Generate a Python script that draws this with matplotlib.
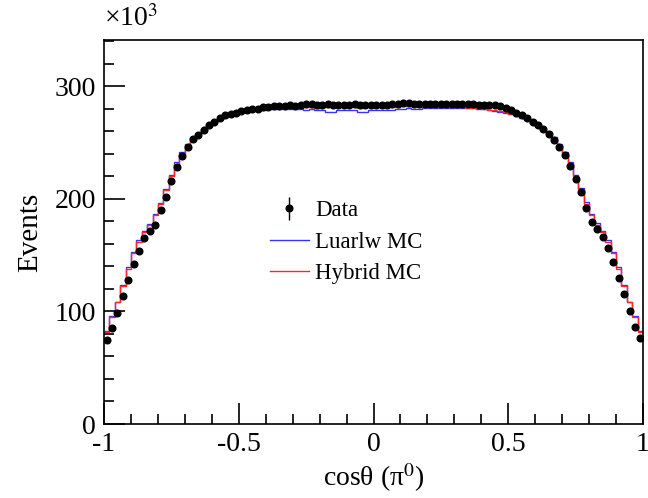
import numpy as np
import matplotlib
matplotlib.use("Agg")
import matplotlib.pyplot as plt
from matplotlib.ticker import MultipleLocator, FixedLocator

plt.rcParams['font.family'] = ['Liberation Serif', 'DejaVu Serif']
plt.rcParams['mathtext.fontset'] = 'stix'
plt.rcParams['axes.unicode_minus'] = False

# 100 bins over cos(theta) in [-1, 1], values in units of 10^3 events
bin_edges = np.linspace(-1, 1, 101)
bin_centers = 0.5 * (bin_edges[:-1] + bin_edges[1:])

data_events = [
    75, 85, 99, 114, 128, 142, 154, 165, 171, 177,
    190, 202, 216, 228, 238, 246, 253, 257, 261.5, 265.4,
    268.3, 271.9, 274.3, 275.2, 276.4, 278.2, 278.7, 279.3, 279.3, 281.7,
    281.7, 282.2, 282.8, 282.2, 283.1, 282.8, 283.4, 284.0, 283.8, 283.2,
    283.6, 283.9, 283.3, 283.7, 283.5, 283.4, 283.8, 283.6, 283.2, 283.5,
    283.7, 283.4, 283.6, 283.9, 284.3, 285.0, 285.3, 284.6, 284.0, 283.8,
    284.1, 284.3, 284.5, 284.2, 284.6, 284.3, 284.5, 284.0, 283.9, 283.6,
    283.2, 283.0, 283.0, 282.0, 280.8, 278.7, 276.4, 274.3, 271.5, 268.5,
    265.5, 262, 257.5, 252.5, 246, 238.5, 229, 217.5, 205.6, 192,
    179.3, 172.8, 165.7, 156.5, 144, 130, 115, 100, 86.4, 76,
]

luarlw_mc = [
    82.5, 96, 108.5, 123.5, 139, 152.5, 163, 171.5, 178, 186.5,
    196, 208.5, 221.5, 232.5, 241.5, 248.5, 254.5, 258.5, 262, 265.5,
    268.5, 271, 273, 274.5, 275.8, 276.8, 277.5, 278.0, 278.5, 279.0,
    279.4, 279.7, 279.9, 280.0, 280.0, 279.6, 279.8, 279.2, 279.5, 279.0,
    278.6, 277.0, 276.8, 278.5, 278.9, 278.4, 278.7, 277.0, 276.9, 278.6,
    278.9, 278.5, 279.1, 278.8, 279.3, 279.6, 280.2, 280.0, 279.8, 280.3,
    280.5, 280.2, 280.6, 280.4, 280.7, 280.9, 281.0, 280.8, 280.5, 280.1,
    279.6, 279.0, 278.2, 277.3, 276.3, 275.0, 273.7, 272.0, 270.0, 267.5,
    264.8, 261.6, 258.2, 254.5, 248.8, 241.5, 232.5, 221.5, 209.5, 197.5,
    186.5, 178.5, 171.5, 163, 152.5, 139, 123, 108.5, 95.5, 82.5,
]

hybrid_mc = [
    82, 95, 108, 122.5, 138, 152, 162, 170.7, 177, 185.5,
    195, 208, 220, 231, 240, 247.5, 253.5, 257.5, 261, 264.5,
    267.5, 270.5, 272.5, 274.2, 275.5, 276.8, 277.8, 278.5, 279.2, 279.8,
    280.3, 280.6, 280.9, 281.1, 281.2, 281.4, 281.1, 281.5, 281.3, 281.0,
    281.4, 281.2, 281.5, 281.1, 281.3, 281.6, 281.2, 281.0, 281.4, 281.3,
    281.5, 281.7, 281.4, 281.6, 281.9, 282.0, 282.2, 282.0, 281.8, 281.9,
    281.7, 281.8, 281.6, 281.7, 281.5, 281.4, 281.1, 280.9, 280.6, 280.3,
    279.8, 279.2, 278.5, 277.8, 276.8, 275.5, 274.2, 272.5, 270.5, 267.5,
    264.5, 261, 257.5, 253.5, 247.5, 240, 231, 220, 208, 195,
    185.5, 177, 170.7, 162, 152, 138, 122.5, 108, 95, 82,
]

x_ticks = [-1, -0.5, 0, 0.5, 1]
x_tick_labels = ["-1", "-0.5", "0", "0.5", "1"]
y_ticks = [0, 100, 200, 300]

fig = plt.figure(figsize=(6.48, 4.98), dpi=100)
ax = fig.add_axes([104 / 648, 74 / 498, 539 / 648, 384 / 498])

ax.stairs(luarlw_mc, bin_edges, baseline=None, color=(0.2, 0.2, 1.0), lw=1.0,
          label="Luarlw MC")
ax.stairs(hybrid_mc, bin_edges, baseline=None, color=(1.0, 0.15, 0.15), lw=1.0,
          label="Hybrid MC")
ax.errorbar(bin_centers, data_events, yerr=0.4, fmt='o', color='black',
            markersize=4.8, elinewidth=1, capsize=0, label="Data")

ax.set_xlim(-1, 1)
ax.set_ylim(0, 341)
ax.xaxis.set_major_locator(FixedLocator(x_ticks))
ax.set_xticklabels(x_tick_labels)
ax.xaxis.set_minor_locator(MultipleLocator(0.1))
ax.yaxis.set_major_locator(FixedLocator(y_ticks))
ax.yaxis.set_minor_locator(MultipleLocator(20))
ax.tick_params(which='both', direction='in', top=False, right=False,
               labelsize=20, width=1.2, pad=6)
ax.tick_params(which='major', length=15)
ax.tick_params(which='minor', length=7)
for s in ax.spines.values():
    s.set_linewidth(1.2)

ax.set_xlabel("cosθ (π$^{0}$)", fontsize=20, labelpad=3)
ax.set_ylabel("Events", fontsize=21, labelpad=8)
fig.text(104 / 648, 1 - 32 / 498, "×10$^{3}$", fontsize=20, ha='left', va='bottom')

handles, labels = ax.get_legend_handles_labels()
order = [2, 0, 1]
ax.legend([handles[i] for i in order], [labels[i] for i in order],
          loc='center left', bbox_to_anchor=(249 / 648, 1 - 242 / 498),
          bbox_transform=fig.transFigure, frameon=False, fontsize=16.5,
          handlelength=1.7, handletextpad=0.3, labelspacing=0.45)

fig.savefig("out.png", dpi=100)
